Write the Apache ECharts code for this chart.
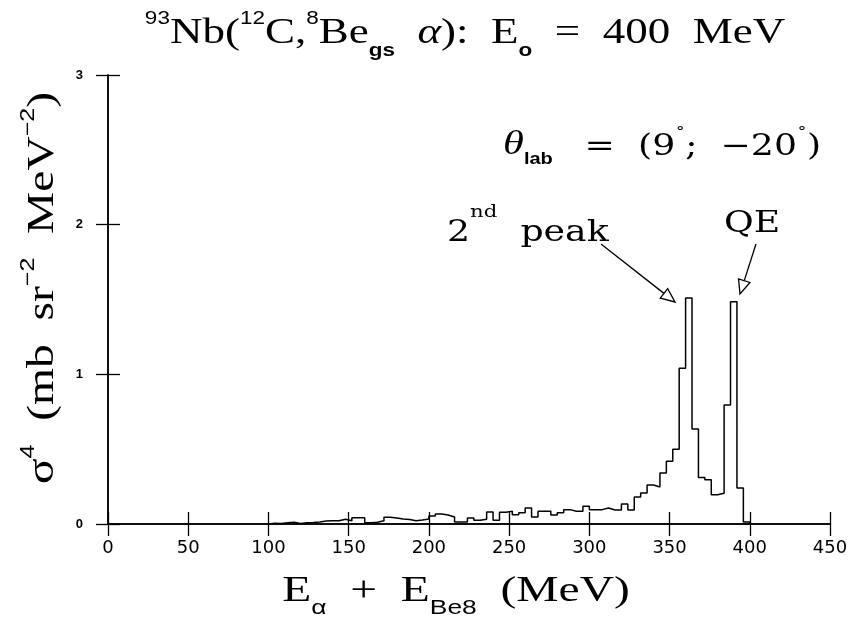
<!DOCTYPE html>
<html><head><meta charset="utf-8">
<script src="https://cdn.jsdelivr.net/npm/echarts@6/dist/echarts.min.js"></script>
<style>html,body{margin:0;padding:0;background:#fff}#c{width:849px;height:617px}</style>
</head><body><div id="c"></div>
<script>
// histogram: 4 MeV bins starting at 100 MeV
const binStart = 100;
const binWidth = 4;
const counts = [
  0.005,0.004,0.008,0.012,0.004,0.008,0.010,0.014,0.020,0.022,
  0.022,0.032,0.022,0.042,0.042,0.008,0.012,0.022,0.045,0.040,
  0.034,0.030,0.022,0.027,0.034,0.053,0.067,0.060,0.047,0.013,
  0.013,0.040,0.025,0.031,0.080,0.025,0.078,0.085,0.062,0.076,
  0.107,0.047,0.085,0.085,0.060,0.076,0.096,0.085,0.085,0.118,
  0.096,0.096,0.107,0.094,0.094,0.134,0.094,0.180,0.207,0.260,
  0.247,0.340,0.420,0.500,1.040,1.510,0.635,0.310,0.295,0.195,
  0.205,0.795,1.485,0.240,0.013
];
const xMin = 0, xMax = 450, xStep = 50;
const yMin = 0, yMax = 3, yStep = 1;

// step points from bin edges
const pts = [[binStart, 0]];
counts.forEach((v, i) => pts.push([binStart + i * binWidth, v]));
pts.push([binStart + counts.length * binWidth, 0]);

const SERIF = "'Liberation Serif','DejaVu Serif',serif";
const DSERIF = "'DejaVu Serif',serif";
const SANS = "'Liberation Sans','DejaVu Sans',sans-serif";
const DSANS = "'DejaVu Sans',sans-serif";
const SX = 1.25;

const chart = echarts.init(document.getElementById('c'));

function arrow(x1, y1, x2, y2) {
  const dx = x2 - x1, dy = y2 - y1, L = Math.hypot(dx, dy);
  const ux = dx / L, uy = dy / L, px = -uy, py = ux;
  const hl = 14, hw = 6;
  const bx = x2 - ux * hl, by = y2 - uy * hl;
  return [
    {type: 'line', shape: {x1, y1, x2: bx, y2: by}, style: {stroke: '#000', lineWidth: 1.3}, z: 10},
    {type: 'polygon', shape: {points: [[x2, y2], [bx + px * hw, by + py * hw], [bx - px * hw, by - py * hw]]},
     style: {fill: '#fff', stroke: '#000', lineWidth: 1.3}, z: 10}
  ];
}

function richSet(big, small, lh) {
  return {
    n: {fontFamily: SERIF, fontSize: big, fill: '#000', lineHeight: lh, verticalAlign: 'bottom'},
    it: {fontFamily: SERIF, fontStyle: 'italic', fontSize: big, fill: '#000', lineHeight: lh, verticalAlign: 'bottom'},
    sup: {fontFamily: SANS, fontSize: small, fill: '#000', lineHeight: lh, verticalAlign: 'top', padding: [2, 0, 0, 0]},
    sub: {fontFamily: SANS, fontSize: small, fontWeight: 'bold', fill: '#000', lineHeight: lh, verticalAlign: 'bottom', padding: [0, 0, -8, 0]},
    subn: {fontFamily: SANS, fontSize: small, fill: '#000', lineHeight: lh, verticalAlign: 'bottom', padding: [0, 0, -8, 0]}
  };
}

function label(x, y, text, rich, opts) {
  return Object.assign({
    type: 'text', x, y, scaleX: SX, z: 10,
    style: {text, rich, align: 'center', verticalAlign: 'middle'}
  }, opts || {});
}

const axisCommon = {
  type: 'value',
  axisLine: {show: true, lineStyle: {color: '#000', width: 1.5}},
  axisTick: {show: true, inside: false, length: 12, lineStyle: {color: '#000', width: 1.3}},
  splitLine: {show: false}
};

chart.setOption({
  animation: false,
  backgroundColor: '#fff',
  grid: {left: 108, right: 19, top: 75, bottom: 93, outerBoundsMode: 'none', containLabel: false},
  xAxis: [
    Object.assign({}, axisCommon, {
      min: xMin, max: xMax, interval: xStep, position: 'bottom',
      axisLabel: {color: '#000', fontFamily: DSANS, fontSize: 18, margin: 15}
    }),
    Object.assign({}, axisCommon, {
      min: xMin, max: xMax, interval: xStep, position: 'top',
      axisLabel: {show: false}
    })
  ],
  yAxis: [
    Object.assign({}, axisCommon, {
      min: yMin, max: yMax, interval: yStep, position: 'left',
      axisLabel: {color: '#000', fontFamily: SANS, fontSize: 13, fontWeight: 'bold', margin: 25}
    }),
    Object.assign({}, axisCommon, {
      min: yMin, max: yMax, interval: yStep, position: 'right',
      axisLabel: {show: false}
    })
  ],
  series: [{
    type: 'line',
    data: pts,
    step: 'end',
    symbol: 'none',
    lineStyle: {color: '#000', width: 1.5},
    xAxisIndex: 0, yAxisIndex: 0
  }],
  graphic: [
    // title
    label(465, 30, '{sup|93}{n|Nb(}{sup|12}{n|C,}{sup|8}{n|Be}{sub|gs}{n|  }{it|α}{n|):  E}{sub|o}{n|  =  400  MeV}', richSet(36, 18, 44)),
    // x axis name
    label(456, 588, '{n|E}{subn|α}{n|  +  E}{subn|Be8}{n|  (MeV)}', richSet(36, 20, 44), {scaleX: 1.32}),
    // y axis name
    label(39, 288, '{n|σ}{sup|4}{n|  (mb  sr}{sup|−2}{n|  MeV}{sup|−2}{n|)}', richSet(38, 20, 46), {rotation: Math.PI / 2}),
    // theta annotation
    {
      type: 'text', x: 503, y: 142, scaleX: SX, z: 10,
      style: {
        text: '{t|θ}{sub|lab}{n|  =  (9}{sup|˚}{n|;  −20}{sup|˚}{n|)}',
        align: 'left', verticalAlign: 'middle',
        rich: {
          t: {fontFamily: SERIF, fontStyle: 'italic', fontSize: 34, fill: '#000', lineHeight: 40, verticalAlign: 'bottom'},
          n: {fontFamily: DSERIF, fontSize: 29, fill: '#000', lineHeight: 40, verticalAlign: 'bottom'},
          sub: {fontFamily: SANS, fontSize: 16, fontWeight: 'bold', fill: '#000', lineHeight: 40, verticalAlign: 'bottom', padding: [0, 7, -6, 0]},
          sup: {fontFamily: DSERIF, fontSize: 16, fill: '#000', lineHeight: 40, verticalAlign: 'top', padding: [6, 0, 0, 0]}
        }
      }
    },
    {
      type: 'text', x: 447, y: 226, scaleX: SX, z: 10,
      style: {
        text: '{n|2}{sup|nd}{n|  peak}',
        align: 'left', verticalAlign: 'middle',
        rich: {
          n: {fontFamily: DSERIF, fontSize: 29, fill: '#000', lineHeight: 44, verticalAlign: 'bottom'},
          sup: {fontFamily: DSERIF, fontSize: 17, fill: '#000', lineHeight: 44, verticalAlign: 'top'}
        }
      }
    },
    {
      type: 'text', x: 724, y: 224, scaleX: SX, z: 10,
      style: {text: 'QE', font: "29px 'DejaVu Serif',serif", fill: '#000', align: 'left', verticalAlign: 'middle'}
    }
  ].concat(arrow(601, 244, 675, 302)).concat(arrow(756, 244, 740, 294))
});
</script>
</body></html>
